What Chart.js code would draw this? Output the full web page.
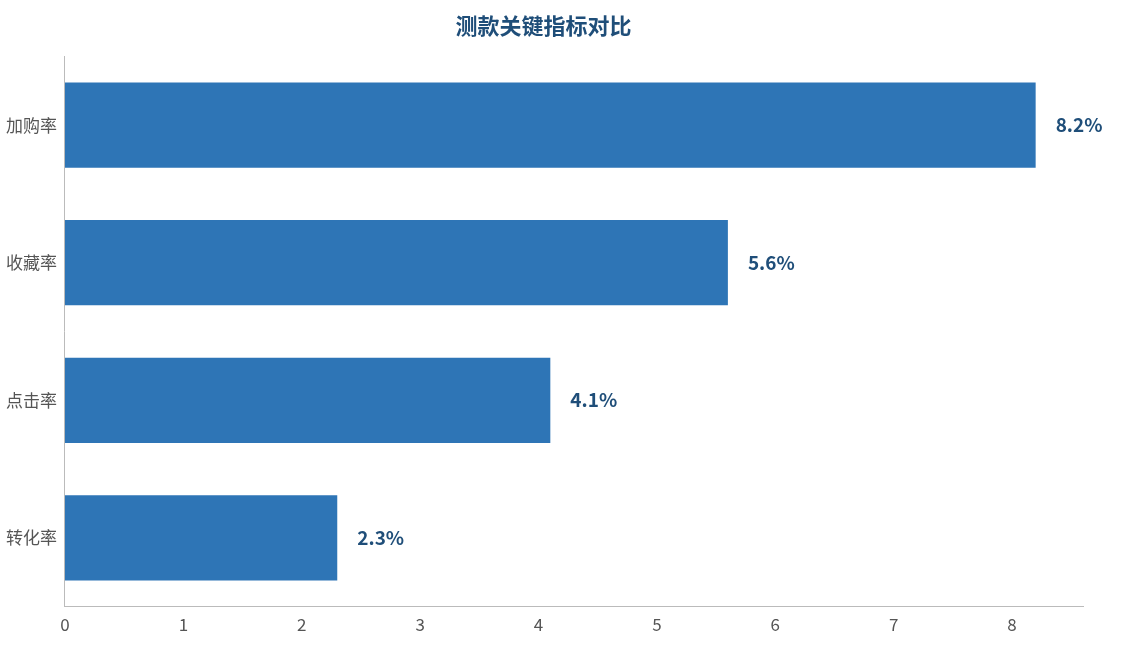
<!DOCTYPE html>
<html><head><meta charset="utf-8">
<script src="https://cdn.jsdelivr.net/npm/chart.js@4"></script>
<style>html,body{margin:0;padding:0;background:#fff}#w{width:1121px;height:645px}</style>
</head><body><div id="w"><canvas id="c"></canvas></div>
<script>
const categories = ['加购率','收藏率','点击率','转化率'];
const values = [8.2, 5.6, 4.1, 2.3];
const xTicks = [0,1,2,3,4,5,6,7,8];
const font = '"Noto Sans CJK SC","Noto Sans",sans-serif';
const labelPlugin = {
  id:'lbl',
  afterDatasetsDraw(chart){
    const ctx=chart.ctx; const meta=chart.getDatasetMeta(0);
    ctx.save(); ctx.fillStyle='#1f4e79'; ctx.font='bold 19px '+font;
    ctx.textBaseline='middle';
    meta.data.forEach((b,i)=>{ctx.fillText(values[i].toFixed(1)+'%', b.x+20, b.y);});
    ctx.restore();
  }
};
new Chart(document.getElementById('c'),{
  type:'bar',
  data:{labels:categories,datasets:[{data:values,backgroundColor:'#2e75b6',categoryPercentage:0.62,barPercentage:1}]},
  options:{
    indexAxis:'y',responsive:true,maintainAspectRatio:false,animation:false,
    layout:{padding:{left:4,right:38,top:0,bottom:8}},
    plugins:{legend:{display:false},tooltip:{enabled:false},
      title:{display:true,text:'测款关键指标对比',color:'#1f4e79',font:{family:font,size:22,weight:'bold'},padding:{top:12,bottom:18}}},
    scales:{
      x:{min:0,max:8.6,afterBuildTicks(a){a.ticks=xTicks.map(v=>({value:v}));},
        grid:{display:false,drawTicks:true,tickLength:6,color:'#bbb'},border:{color:'#bbb'},
        ticks:{color:'#555',font:{family:font,size:17},padding:2}},
      y:{grid:{display:false,tickLength:6,color:'#bbb'},border:{color:'#bbb'},
        ticks:{color:'#555',font:{family:font,size:17},padding:2}}
    }
  },
  plugins:[labelPlugin]
});
</script></body></html>
